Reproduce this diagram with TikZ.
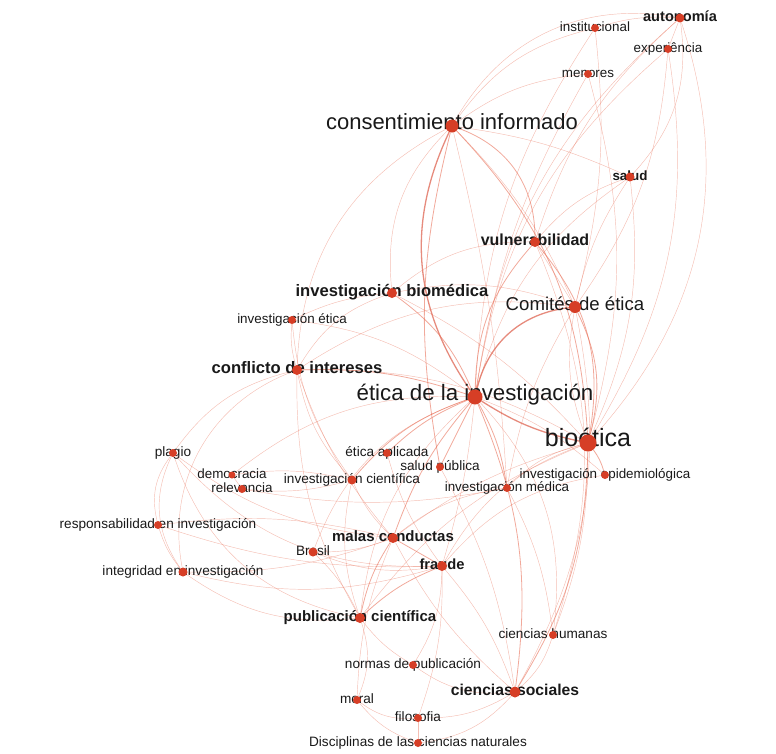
\documentclass[tikz,border=0pt]{standalone}
\usepackage{fontspec}
\setmainfont{Liberation Sans}
\pgfdeclarelayer{links}
\pgfdeclarelayer{words}
\pgfsetlayers{links,words,main}

\definecolor{dotred}{RGB}{214,62,38}
\definecolor{linkred}{RGB}{232,112,88}
\definecolor{inkgray}{RGB}{25,25,25}

\begin{document}
\begin{tikzpicture}[x=1pt,y=1pt,
    kw/.style={circle, fill=dotred, inner sep=0pt, minimum size=#1},
    lab/.style={font=\fontsize{#1}{#1}\selectfont, text=inkgray, anchor=base, yshift=-3.5pt, inner sep=0pt},
    labb/.style={lab=#1, font=\bfseries\fontsize{#1}{#1}\selectfont},
    link/.style={draw=linkred, line width=0.45pt, opacity=0.45},
    link2/.style={draw=linkred, line width=0.8pt, opacity=0.6},
    link3/.style={draw=dotred, line width=1.3pt, opacity=0.6}]
        \useasboundingbox (0,0) rectangle (776,-753);

        % keywords
        \node[kw=9]  (auto)   at (680,-18)  {};
        \node[kw=8]  (inst)   at (595,-28)  {};
        \node[kw=8]  (expe)   at (668,-49)  {};
        \node[kw=8]  (meno)   at (588,-74)  {};
        \node[kw=13] (cons)   at (452,-126) {};
        \node[kw=9]  (salud)  at (630,-177) {};
        \node[kw=10] (vuln)   at (535,-242) {};
        \node[kw=10] (biom)   at (392,-293) {};
        \node[kw=12] (comi)   at (575,-307) {};
        \node[kw=8]  (inveti) at (292,-320) {};
        \node[kw=10] (conf)   at (297,-370) {};
        \node[kw=15] (eti)    at (475,-397) {};
        \node[kw=17] (bio)    at (588,-443) {};
        \node[kw=8]  (apli)   at (387,-453) {};
        \node[kw=8]  (salp)   at (440,-467) {};
        \node[kw=7]  (demo)   at (232,-475) {};
        \node[kw=8]  (rele)   at (242,-489) {};
        \node[kw=9]  (cien)   at (352,-480) {};
        \node[kw=8]  (epid)   at (605,-475) {};
        \node[kw=8]  (medi)   at (507,-488) {};
        \node[kw=8]  (plag)   at (173,-453) {};
        \node[kw=8]  (resp)   at (158,-525) {};
        \node[kw=9]  (bras)   at (313,-552) {};
        \node[kw=10] (mala)   at (393,-538) {};
        \node[kw=10] (frau)   at (442,-566) {};
        \node[kw=9]  (inte)   at (183,-572) {};
        \node[kw=10] (publ)   at (360,-618) {};
        \node[kw=8]  (hum)    at (553,-635) {};
        \node[kw=8]  (norm)   at (413,-665) {};
        \node[kw=11] (soc)    at (515,-692) {};
        \node[kw=8]  (moral)  at (357,-700) {};
        \node[kw=8]  (filo)   at (418,-718) {};
        \node[kw=8]  (disc)   at (418,-743) {};

        \begin{pgfonlayer}{words}
        \node[labb=14.6] (auto-l)   at (auto)   {autonomía};
        \node[lab=13.4]  (inst-l)   at (inst)   {institucional};
        \node[lab=13.4]  (expe-l)   at (expe)   {experiência};
        \node[lab=13.4]  (meno-l)   at (meno)   {menores};
        \node[lab=22]    (cons-l)   at (cons)   {consentimiento informado};
        \node[labb=13.4] (salud-l)  at (salud)  {salud};
        \node[labb=16]   (vuln-l)   at (vuln)   {vulnerabilidad};
        \node[labb=16.6] (biom-l)   at (biom)   {investigación biomédica};
        \node[lab=18.6]  (comi-l)   at (comi)   {Comités de ética};
        \node[lab=13.4]  (inveti-l) at (inveti) {investigación ética};
        \node[labb=16.6] (conf-l)   at (conf)   {conflicto de intereses};
        \node[lab=22.3]  (eti-l)    at (eti)    {ética de la investigación};
        \node[lab=25]    (bio-l)    at (bio)    {bioética};
        \node[lab=13.6]  (apli-l)   at (apli)   {ética aplicada};
        \node[lab=13.6]  (salp-l)   at (salp)   {salud pública};
        \node[lab=13.4]  (demo-l)   at (demo)   {democracia};
        \node[lab=13.4]  (rele-l)   at (rele)   {relevancia};
        \node[lab=13.6]  (cien-l)   at (cien)   {investigación científica};
        \node[lab=13.4]  (epid-l)   at (epid)   {investigación epidemiológica};
        \node[lab=13.4]  (medi-l)   at (medi)   {investigación médica};
        \node[lab=13.6]  (plag-l)   at (plag)   {plagio};
        \node[lab=13.6]  (resp-l)   at (resp)   {responsabilidad en investigación};
        \node[lab=13.6]  (bras-l)   at (bras)   {Brasil};
        \node[labb=15]   (mala-l)   at (mala)   {malas conductas};
        \node[labb=14.7] (frau-l)   at (frau)   {fraude};
        \node[lab=13.6]  (inte-l)   at (inte)   {integridad en investigación};
        \node[labb=15]   (publ-l)   at (publ)   {publicación científica};
        \node[lab=13.6]  (hum-l)    at (hum)    {ciencias humanas};
        \node[lab=13.6]  (norm-l)   at (norm)   {normas de publicación};
        \node[labb=15.7] (soc-l)    at (soc)    {ciencias sociales};
        \node[lab=13.6]  (moral-l)  at (moral)  {moral};
        \node[lab=13.6]  (filo-l)   at (filo)   {filosofia};
        \node[lab=13.6]  (disc-l)   at (disc)   {Disciplinas de las ciencias naturales};
        \end{pgfonlayer}

        \begin{pgfonlayer}{links}
        % top group
        \draw[link] (cons) to[bend left=35] (auto);
        \draw[link] (cons) to[bend left=20] (inst);
        \draw[link] (meno) to[bend right=15] (cons);
        \draw[link] (auto) to[bend left=30] (bio);
        \draw[link] (auto) to[bend left=25] (salud);
        \draw[link] (auto) to[bend right=20] (eti);
        \draw[link] (auto) to[bend right=15] (vuln);
        \draw[link] (auto) to[bend right=10] (inst);
        \draw[link] (auto) to (expe);
        \draw[link] (expe) to[bend right=20] (eti);
        \draw[link] (expe) to[bend left=15] (comi);
        \draw[link] (expe) to[bend left=20] (bio);
        \draw[link] (inst) to[bend right=15] (eti);
        \draw[link] (inst) to[bend left=10] (comi);
        \draw[link] (meno) to[bend right=10] (eti);
        \draw[link] (meno) to[bend left=15] (bio);

        % middle
        \draw[link3] (cons) to[bend right=30] (eti);
        \draw[link2] (cons) to[bend left=20] (bio);
        \draw[link2] (cons) to[bend left=35] (vuln);
        \draw[link2] (cons) to[bend right=12] (salp);
        \draw[link] (cons) to[bend left=10] (comi);
        \draw[link] (cons) to[bend right=25] (biom);
        \draw[link] (cons) to[bend left=8] (salud);
        \draw[link] (cons) to[bend left=5] (medi);
        \draw[link] (cons) to[bend right=30] (conf);
        \draw[link3] (eti) to[bend right=10] (bio);
        \draw[link3] (eti) to[bend left=35] (comi);
        \draw[link2] (vuln) to[bend left=25] (bio);
        \draw[link2] (comi) to[bend left=20] (bio);
        \draw[link] (comi) to[bend right=15] (bio);
        \draw[link2] (vuln) to[bend right=20] (eti);
        \draw[link] (salud) to[bend left=15] (bio);
        \draw[link] (salud) to[bend right=15] (vuln);
        \draw[link] (salud) to[bend right=10] (comi);
        \draw[link] (salud) to[bend right=20] (eti);
        \draw[link2] (biom) to[bend left=15] (eti);
        \draw[link] (biom) to[bend left=10] (bio);
        \draw[link] (biom) to[bend left=15] (comi);
        \draw[link] (vuln) to (comi);
        \draw[link] (vuln) to[bend right=20] (biom);
        \draw[link2] (conf) to[bend left=10] (eti);
        \draw[link] (conf) to[bend left=20] (biom);
        \draw[link] (conf) to[bend left=20] (comi);
        \draw[link] (conf) to[bend left=15] (bio);
        \draw[link] (inveti) to[bend left=10] (biom);
        \draw[link] (inveti) to[bend right=10] (conf);
        \draw[link] (inveti) to[bend left=15] (eti);
        \draw[link] (inveti) to[bend right=15] (cien);

        % lower
        \draw[link2] (eti) to[bend right=10] (apli);
        \draw[link2] (eti) to (salp);
        \draw[link2] (eti) to[bend left=10] (medi);
        \draw[link2] (eti) to[bend right=15] (cien);
        \draw[link2] (eti) to[bend right=10] (mala);
        \draw[link] (eti) to[bend left=5] (frau);
        \draw[link] (eti) to[bend right=20] (publ);
        \draw[link2] (eti) to[bend left=15] (soc);
        \draw[link] (eti) to[bend left=25] (hum);
        \draw[link] (eti) to[bend right=20] (demo);
        \draw[link] (eti) to[bend left=10] (epid);
        \draw[link] (eti) to[bend right=25] (bras);
        \draw[link2] (bio) to[bend left=10] (epid);
        \draw[link2] (bio) to[bend left=15] (soc);
        \draw[link] (bio) to[bend left=10] (hum);
        \draw[link] (bio) to[bend right=15] (medi);
        \draw[link] (bio) to[bend right=10] (mala);
        \draw[link] (bio) to[bend right=20] (frau);
        \draw[link] (bio) to[bend right=15] (publ);
        \draw[link] (comi) to[bend left=20] (soc);
        \draw[link] (comi) to[bend right=10] (medi);
        \draw[link] (vuln) to[bend left=20] (hum);
        \draw[link] (soc) to[bend right=15] (hum);
        \draw[link] (soc) to[bend left=20] (norm);
        \draw[link] (soc) to[bend left=15] (filo);
        \draw[link] (soc) to[bend left=20] (disc);
        \draw[link] (soc) to[bend right=10] (frau);
        \draw[link] (soc) to[bend left=10] (mala);
        \draw[link] (filo) to[bend left=20] (moral);
        \draw[link] (filo) to (disc);
        \draw[link] (moral) to[bend right=15] (disc);
        \draw[link] (publ) to[bend left=20] (moral);
        \draw[link] (publ) to[bend right=10] (norm);
        \draw[link] (norm) to[bend right=15] (frau);
        \draw[link2] (publ) to[bend left=10] (frau);
        \draw[link2] (publ) to[bend left=10] (mala);
        \draw[link2] (mala) to (frau);
        \draw[link] (bras) to[bend right=10] (mala);
        \draw[link] (bras) to[bend right=15] (frau);
        \draw[link] (bras) to[bend left=10] (publ);
        \draw[link] (inte) to[bend right=10] (mala);
        \draw[link] (inte) to[bend right=15] (frau);
        \draw[link] (inte) to[bend right=20] (publ);
        \draw[link] (resp) to[bend left=10] (mala);
        \draw[link] (resp) to[bend right=10] (frau);
        \draw[link] (resp) to[bend right=10] (inte);
        \draw[link] (plag) to[bend right=30] (inte);
        \draw[link] (plag) to[bend right=25] (resp);
        \draw[link] (plag) to[bend right=15] (mala);
        \draw[link] (plag) to[bend right=25] (frau);
        \draw[link] (plag) to[bend right=30] (publ);
        \draw[link] (plag) to[bend left=20] (conf);
        \draw[link] (conf) to[bend right=40] (inte);
        \draw[link] (conf) to[bend right=10] (mala);
        \draw[link] (conf) to[bend right=15] (publ);
        \draw[link] (conf) to[bend right=15] (cien);
        \draw[link] (demo) to (rele);
        \draw[link] (rele) to[bend right=10] (cien);
        \draw[link] (demo) to[bend left=10] (cien);
        \draw[link] (rele) to[bend right=10] (medi);
        \draw[link] (cien) to[bend right=10] (mala);
        \draw[link] (cien) to[bend right=15] (publ);
        \draw[link] (apli) to[bend right=10] (frau);
        \draw[link] (salp) to[bend left=10] (soc);
        \draw[link] (medi) to[bend right=15] (mala);
        \draw[link] (medi) to[bend left=10] (hum);
        \draw[link] (epid) to[bend right=20] (frau);
        \draw[link] (frau) to[bend left=10] (filo);
        \draw[link] (mala) to[bend right=10] (moral);
        \end{pgfonlayer}
    \end{tikzpicture}
\end{document}
